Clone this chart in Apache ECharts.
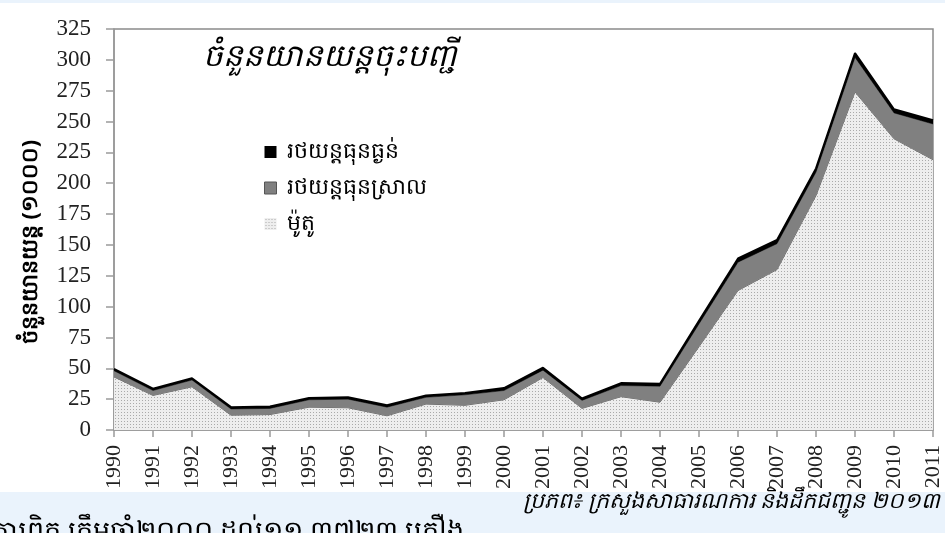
<!DOCTYPE html>
<html>
<head>
<meta charset="utf-8">
<script src="https://cdn.jsdelivr.net/npm/echarts/dist/echarts.min.js"></script>
<style>
  html, body { margin: 0; padding: 0; background: #ffffff; }
  #main { width: 945px; height: 533px; }
</style>
</head>
<body>
<div id="main"></div>
<script>
// ឆ្នាំ
var years = ['1990', '1991', '1992', '1993', '1994', '1995', '1996', '1997', '1998', '1999', '2000',
             '2001', '2002', '2003', '2004', '2005', '2006', '2007', '2008', '2009', '2010', '2011'];
// ម៉ូតូ (1000)
var motoData = [43, 28, 35, 12, 12.5, 18.5, 18, 11.5, 21, 20, 24.5,
                42.5, 17.5, 27, 22.5, 67.5, 113, 130, 190, 274, 236, 219];
// រថយន្តធុនស្រាល (1000)
var lightData = [5, 4, 5.5, 5, 5, 6, 7, 7, 5.5, 8.5, 7.5,
                 6, 6.5, 9, 13, 18.5, 23, 21, 19, 28, 21, 29];
// រថយន្តធុនធ្ងន់ (1000)
var heavyData = [1.5, 1.5, 1.5, 1.5, 1.5, 1.5, 1.5, 1.5, 1.5, 1.5, 2,
                 2, 1.5, 2, 2, 2.5, 3, 3, 3, 3.5, 3, 3];

var seriesNames = ['រថយន្តធុនធ្ងន់', 'រថយន្តធុនស្រាល', 'ម៉ូតូ'];

var khFont = '"Noto Sans", "DejaVu Sans", sans-serif';
var numFont = '"Liberation Serif", "DejaVu Serif", serif';

//ចំណុចតូចៗសម្រាប់ម៉ូតូ
function makeDots() {
    var c = document.createElement('canvas');
    c.width = 3;
    c.height = 3;
    var ctx = c.getContext('2d');
    ctx.fillStyle = '#eeeeee';
    ctx.fillRect(0, 0, 3, 3);
    ctx.fillStyle = '#aaaaaa';
    ctx.fillRect(1, 1, 1, 1);
    return c;
}
var dots = { image: makeDots(), repeat: 'repeat' };

var myChart = echarts.init(document.getElementById('main'));
var option = {
    backgroundColor: '#ffffff',
    animation: false,
    title: {
        text: 'ចំនួនយានយន្តចុះបញ្ជី',
        left: 198,
        top: 37,
        textStyle: {
            fontFamily: khFont,
            fontSize: 31,
            fontStyle: 'italic',
            fontWeight: 'normal',
            color: '#000'
        }
    },
    legend: {
        orient: 'vertical',
        left: 259,
        top: 136,
        itemWidth: 12,
        itemHeight: 12,
        itemGap: 14,
        textStyle: { fontFamily: khFont, fontSize: 22, lineHeight: 22, color: '#000', padding: [0, 0, 0, 5] },
        data: [
            { name: seriesNames[0], icon: 'rect', itemStyle: { color: '#000', borderWidth: 0 } },
            { name: seriesNames[1], icon: 'rect', itemStyle: { color: '#808080', borderColor: '#555', borderWidth: 1 } },
            { name: seriesNames[2], icon: 'rect', itemStyle: { color: dots, borderWidth: 0 } }
        ]
    },
    grid: {
        left: 114,
        right: 12,
        top: 29,
        bottom: 103,
        show: true,
        borderColor: '#8a8a8a',
        borderWidth: 1.5,
        backgroundColor: 'transparent'
    },
    xAxis: {
        type: 'category',
        data: years,
        boundaryGap: false,
        axisLine: { lineStyle: { color: '#9a9a9a', width: 1.5 } },
        axisTick: { alignWithLabel: true, length: 7, lineStyle: { color: '#9a9a9a', width: 1.5 } },
        axisLabel: {
            interval: 0,
            rotate: 90,
            margin: 15,
            fontFamily: numFont,
            fontSize: 22,
            color: '#222'
        },
        splitLine: { show: false }
    },
    yAxis: {
        type: 'value',
        min: 0,
        max: 325,
        interval: 25,
        axisLine: { show: true, lineStyle: { color: '#9a9a9a', width: 1.5 } },
        axisTick: { show: true, length: 8, lineStyle: { color: '#9a9a9a', width: 1.5 } },
        axisLabel: { margin: 23, fontFamily: numFont, fontSize: 23, color: '#222' },
        splitLine: { show: false }
    },
    series: [
        {
            name: seriesNames[2],
            type: 'line',
            stack: 'total',
            data: motoData,
            symbol: 'none',
            lineStyle: { color: '#6a6a6a', width: 1 },
            itemStyle: { color: '#cccccc' },
            areaStyle: { color: dots, opacity: 1 },
            z: 2
        },
        {
            name: seriesNames[1],
            type: 'line',
            stack: 'total',
            data: lightData,
            symbol: 'none',
            lineStyle: { color: '#4a4a4a', width: 1 },
            itemStyle: { color: '#808080' },
            areaStyle: { color: '#808080', opacity: 1 },
            z: 3
        },
        {
            name: seriesNames[0],
            type: 'line',
            stack: 'total',
            data: heavyData,
            symbol: 'none',
            lineStyle: { color: '#000', width: 2 },
            itemStyle: { color: '#000' },
            areaStyle: { color: '#000', opacity: 1 },
            z: 4
        }
    ],
    graphic: [
        //ផ្ទៃពណ៌ខៀវខាងលើ និងខាងក្រោម
        { type: 'rect', left: 0, top: 0, shape: { width: 945, height: 3 }, style: { fill: '#eaf3fc' }, z: -1 },
        { type: 'rect', left: 0, top: 492, shape: { width: 945, height: 41 }, style: { fill: '#eaf3fc' }, z: -1 },
        //ចំណងជើងអ័ក្ស y
        {
            type: 'text',
            x: 31,
            y: 242,
            rotation: Math.PI / 2,
            style: {
                text: 'ចំនួនយានយន្ត (១០០០)',
                font: 'bold 22px ' + khFont,
                fill: '#000',
                align: 'center',
                verticalAlign: 'middle'
            }
        },
        {
            type: 'text',
            right: 5,
            top: 491,
            style: {
                text: 'ប្រភព៖ ក្រសួងសាធារណការ និងដឹកជញ្ជូន ២០១៣',
                font: 'italic 22px ' + khFont,
                fill: '#000'
            }
        },
        {
            type: 'text',
            left: -8,
            top: 519,
            style: {
                text: 'ការពិត ត្រឹមឆ្នាំ២០០០ ដល់១១ ៣៧២៣ គ្រឿង',
                font: '27px ' + khFont,
                fill: '#000'
            }
        }
    ]
};
myChart.setOption(option);
</script>
</body>
</html>
